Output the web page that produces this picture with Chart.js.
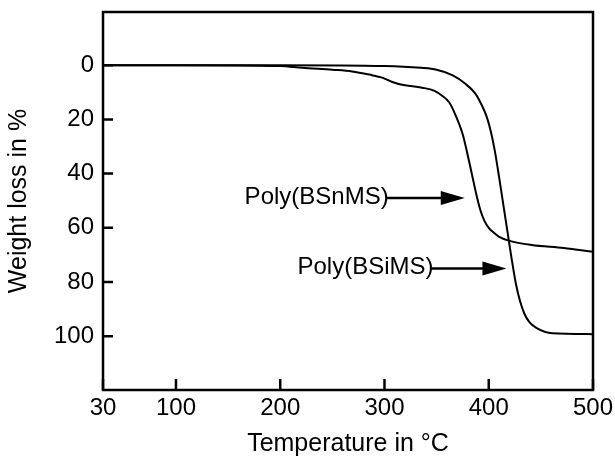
<!DOCTYPE html>
<html>
<head>
<meta charset="utf-8">
<script src="https://cdn.jsdelivr.net/npm/chart.js@4"></script>
<style>
    html, body { margin: 0; padding: 0; background: #fff; }
    #wrap { width: 615px; height: 459px; }
</style>
</head>
<body>
<div id="wrap"><canvas id="tgaChart"></canvas></div>
<script>
// Poly(BSnMS) curve, temperature in °C and weight loss in %
const snTemp = [30, 100, 200, 221, 250, 269, 288, 297, 305, 312, 320, 336, 348, 356, 362, 368, 375, 380, 384, 388, 392, 396, 400, 405, 410, 420, 441, 472, 500];
const snLoss = [0, 0, 0.3, 1.0, 1.7, 2.3, 3.7, 4.5, 5.8, 6.8, 7.4, 8.3, 9.5, 11.5, 13.7, 18.3, 25.5, 33.5, 40.5, 47.5, 53.5, 57.5, 60, 61.8, 63.3, 64.8, 66.3, 67.4, 68.8];

// Poly(BSiMS) curve
const siTemp = [30, 200, 300, 335, 350, 365, 377, 387, 393, 398, 402, 406, 410, 414, 418, 422, 426, 430, 434, 439, 446, 461, 500];
const siLoss = [0, 0, 0.3, 1.0, 1.7, 3.7, 6.7, 10.4, 14.5, 19, 24.5, 32, 41.5, 51.5, 61.5, 71.5, 80.5, 87, 91.5, 94.8, 97, 98.9, 99.2];

const xTicks = [30, 100, 200, 300, 400, 500];
const yTicks = [0, 20, 40, 60, 80, 100];

const labels = [
    { text: "Poly(BSnMS)", tailX: 304, tipX: 377, y: 49 },
    { text: "Poly(BSiMS)", tailX: 347, tipX: 417, y: 75 },
];

const toPoints = (xs, ys) => xs.map((x, i) => ({ x: x, y: ys[i] }));

const FONT = "'Liberation Sans', Arial, Helvetica, sans-serif";

// frame, inward ticks and arrow labels
const framePlugin = {
    id: "frame",
    afterDraw(chart) {
        const ctx = chart.ctx;
        const a = chart.chartArea;
        const xs = chart.scales.x;
        const ys = chart.scales.y;
        ctx.save();
        ctx.strokeStyle = "#000";
        ctx.lineWidth = 2.5;
        ctx.beginPath();
        xTicks.forEach((v) => {
            const px = xs.getPixelForValue(v);
            ctx.moveTo(px, a.bottom);
            ctx.lineTo(px, a.bottom - 11);
        });
        yTicks.forEach((v) => {
            const py = ys.getPixelForValue(v);
            ctx.moveTo(a.left, py);
            ctx.lineTo(a.left + 10, py);
        });
        ctx.stroke();

        ctx.strokeRect(a.left, a.top, a.right - a.left, a.bottom - a.top);

        ctx.font = "24px " + FONT;
        ctx.fillStyle = "#000";
        ctx.textAlign = "right";
        ctx.textBaseline = "middle";
        labels.forEach((l) => {
            const tail = xs.getPixelForValue(l.tailX);
            const tip = xs.getPixelForValue(l.tipX);
            const py = ys.getPixelForValue(l.y);
            ctx.fillText(l.text, tail, py - 1);
            ctx.lineWidth = 2.5;
            ctx.beginPath();
            ctx.moveTo(tail - 2, py);
            ctx.lineTo(tip - 20, py);
            ctx.stroke();
            ctx.beginPath();
            ctx.moveTo(tip, py);
            ctx.lineTo(tip - 24, py - 7);
            ctx.lineTo(tip - 24, py + 7);
            ctx.closePath();
            ctx.fill();
        });
        ctx.restore();
    },
};

document.addEventListener("DOMContentLoaded", () => {
    const ctx = document.getElementById("tgaChart").getContext("2d");
    new Chart(ctx, {
        type: "line",
        data: {
            datasets: [
                {
                    label: "Poly(BSnMS)",
                    data: toPoints(snTemp, snLoss),
                    borderColor: "#000",
                    borderWidth: 2,
                    pointRadius: 0,
                    cubicInterpolationMode: "monotone",
                    fill: false,
                },
                {
                    label: "Poly(BSiMS)",
                    data: toPoints(siTemp, siLoss),
                    borderColor: "#000",
                    borderWidth: 2,
                    pointRadius: 0,
                    cubicInterpolationMode: "monotone",
                    fill: false,
                },
            ],
        },
        options: {
            responsive: true,
            maintainAspectRatio: false,
            animation: false,
            layout: { padding: { top: 12, right: 22, left: 0, bottom: 0 } },
            plugins: {
                legend: { display: false },
                tooltip: { enabled: false },
            },
            scales: {
                x: {
                    type: "linear",
                    min: 30,
                    max: 500,
                    afterBuildTicks: (scale) => {
                        scale.ticks = xTicks.map((v) => ({ value: v }));
                    },
                    afterFit: (scale) => {
                        scale.height = 69;
                        scale.paddingLeft = 0;
                        scale.paddingRight = 0;
                    },
                    grid: { display: false, drawTicks: false },
                    border: { display: false },
                    ticks: {
                        color: "#000",
                        padding: 4,
                        maxRotation: 0,
                        font: { family: FONT, size: 24 },
                    },
                    title: {
                        display: true,
                        text: "Temperature in °C",
                        color: "#000",
                        padding: { top: 4, bottom: 0 },
                        font: { family: FONT, size: 25 },
                    },
                },
                y: {
                    type: "linear",
                    reverse: true,
                    min: -19.6,
                    max: 119.8,
                    afterBuildTicks: (scale) => {
                        scale.ticks = yTicks.map((v) => ({ value: v }));
                    },
                    afterFit: (scale) => {
                        scale.width = 103;
                        scale.paddingTop = 0;
                        scale.paddingBottom = 0;
                    },
                    grid: { display: false, drawTicks: false },
                    border: { display: false },
                    ticks: {
                        color: "#000",
                        padding: 9,
                        font: { family: FONT, size: 24 },
                    },
                    title: {
                        display: true,
                        text: "Weight loss in %",
                        color: "#000",
                        padding: { top: 4, bottom: 4 },
                        font: { family: FONT, size: 25 },
                    },
                },
            },
        },
        plugins: [framePlugin],
    });
});
</script>
</body>
</html>
